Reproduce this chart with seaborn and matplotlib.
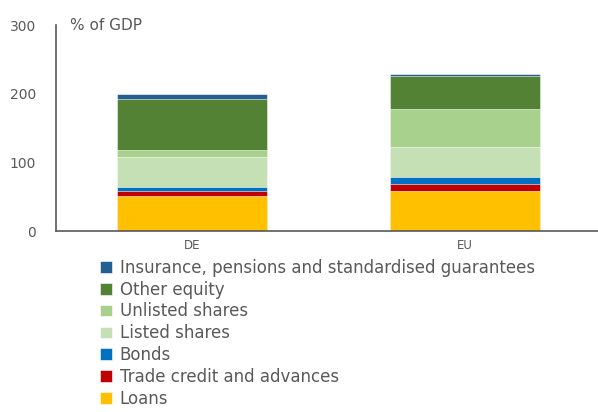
import numpy as np
import pandas as pd
import matplotlib
matplotlib.use("Agg")
import matplotlib.pyplot as plt
import seaborn as sns

# data (% of GDP)
countries = ["DE", "EU"]
components = ["Loans", "Trade credit and advances", "Bonds", "Listed shares",
              "Unlisted shares", "Other equity",
              "Insurance, pensions and standardised guarantees"]
loans = [51, 59]
trade_credit = [7, 9]
bonds = [6, 11]
listed = [44, 43]
unlisted = [9.5, 55.5]
other_equity = [74.5, 48]
insurance = [7.5, 3]

colors = ["#FFC000", "#C00000", "#0070C0", "#C5E0B4", "#A9D18E", "#548235", "#255E91"]

values = np.array([loans, trade_credit, bonds, listed, unlisted, other_equity, insurance])
cum = values.cumsum(axis=0)

sns.set_style("white")
plt.rcParams["font.family"] = ["DejaVu Sans"]
grey = "#595959"

fig = plt.figure(figsize=(5.98, 4.12), dpi=100)
ax = fig.add_axes([0.093, 0.439, 0.912, 0.5])

# draw cumulative totals from the top down so each layer covers the next
for i in range(len(components) - 1, -1, -1):
    df = pd.DataFrame({"country": countries, "total": cum[i]})
    sns.barplot(data=df, x="country", y="total", color=colors[i], width=0.55,
                label=components[i], edgecolor="white", linewidth=0.4, ax=ax,
                saturation=1, legend=False)

if ax.get_legend() is not None:
    ax.get_legend().remove()

ax.set_ylim(0, 300)
ax.set_xlim(-0.5, 1.5)
ax.set_yticks([0, 100, 200, 300])
ax.set_xlabel("")
ax.set_ylabel("")
ax.tick_params(axis="y", colors=grey, labelsize=10, length=0, pad=14)
ax.tick_params(axis="x", colors=grey, labelsize=8.5, length=0, pad=6)
for s in ["top", "right"]:
    ax.spines[s].set_visible(False)
for s in ["left", "bottom"]:
    ax.spines[s].set_color(grey)
    ax.spines[s].set_linewidth(1.2)

ax.text(0.027, 1.0, "% of GDP", transform=ax.transAxes, color=grey,
        fontsize=11, va="center", ha="left")

handles, labels = ax.get_legend_handles_labels()
fig.legend(handles, labels, loc="upper left", bbox_to_anchor=(0.168, 0.372),
           frameon=False, fontsize=12, labelcolor=grey, handlelength=0.7,
           handleheight=0.7, handletextpad=0.45, labelspacing=0.23,
           borderaxespad=0, borderpad=0)

fig.savefig("out.png", dpi=100)
